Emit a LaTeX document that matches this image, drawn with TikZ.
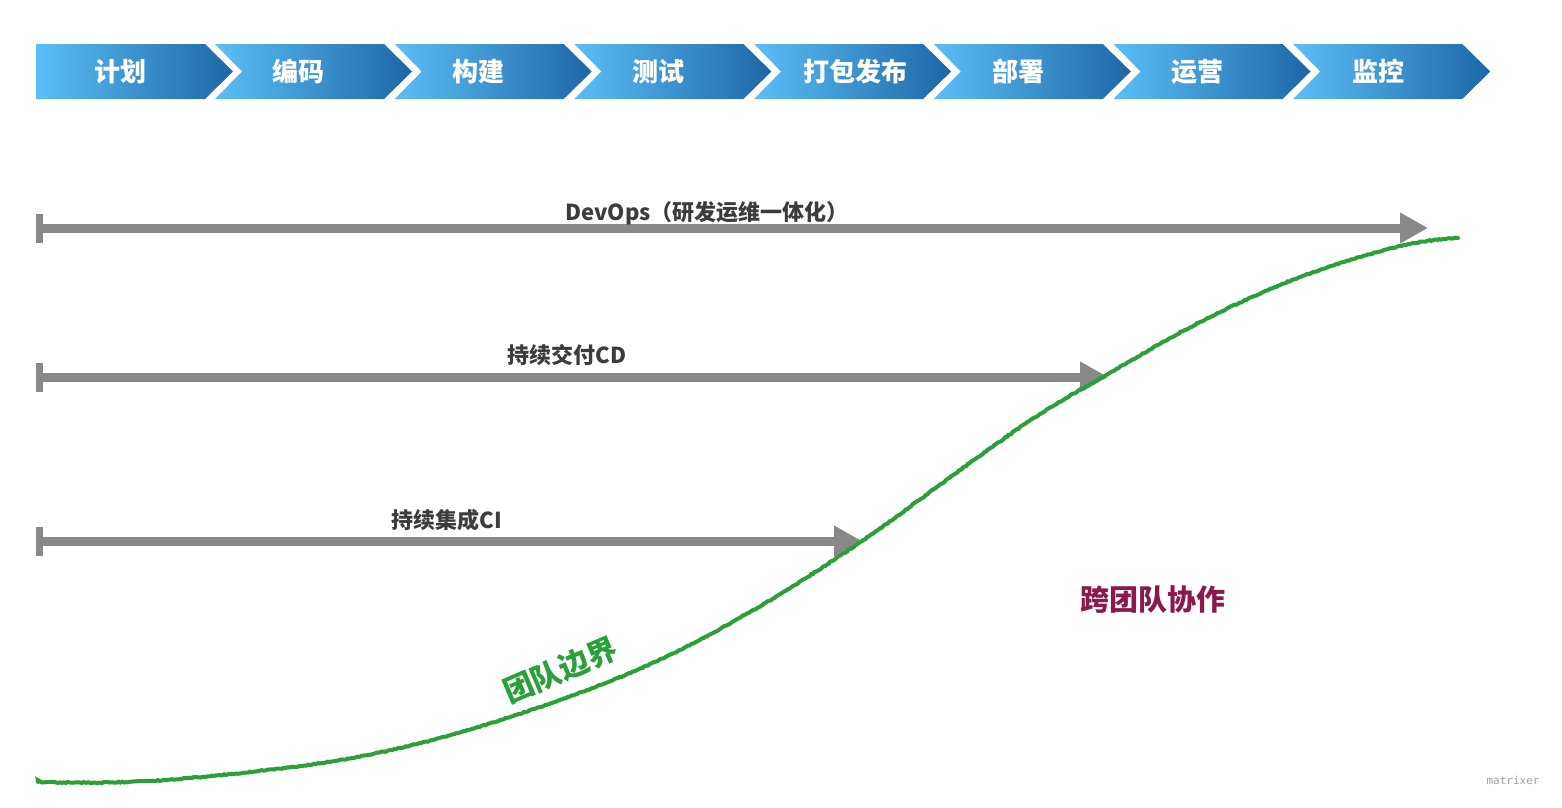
\documentclass[tikz,border=0pt]{standalone}
\usepackage{fontspec}
\setmainfont{Noto Sans CJK SC}
\newfontfamily\monof{DejaVu Sans Mono}
\usetikzlibrary{arrows.meta,decorations.pathmorphing}
\definecolor{chevlight}{RGB}{92,190,246}
\definecolor{chevdark}{RGB}{30,102,165}
\definecolor{arrowgray}{RGB}{136,136,136}
\definecolor{labelgray}{RGB}{60,60,60}
\definecolor{curvegreen}{RGB}{43,160,58}
\definecolor{teammagenta}{RGB}{139,24,78}
\begin{document}
\begin{tikzpicture}[x=1pt,y=-1pt,
  chevtext/.style={text=white,font=\bfseries\fontsize{26}{26}\selectfont,inner sep=0pt},
  spanline/.style={draw=arrowgray,line width=9pt,{Bar[width=29pt,line width=7pt]}-{Triangle[length=28pt,width=29pt]}},
  spanlabel/.style={text=labelgray,font=\bfseries\fontsize{22}{22}\selectfont,inner sep=0pt},
  chevshade/.style={left color=chevlight,right color=chevdark}]
\useasboundingbox[fill=white] (0,0) rectangle (1562,807);
% chevrons
\shade[chevshade] (36,44) -- (205,44) -- (233,71.5) -- (205,99) -- (36,99) -- cycle;
\foreach \i in {1,...,7}{
  \pgfmathsetmacro{\L}{215+179.7*(\i-1)}
  \shade[chevshade] (\L,44) -- (\L+169,44) -- (\L+197,71.5) -- (\L+169,99) -- (\L,99) -- (\L+27,71.5) -- cycle;
}
\node[chevtext] (c1) at (120,71.5) {计划};
\node[chevtext] (c2) at (298,71.5) {编码};
\node[chevtext] (c3) at (478,71.5) {构建};
\node[chevtext] (c4) at (658,71.5) {测试};
\node[chevtext] (c5) at (855,71.5) {打包发布};
\node[chevtext] (c6) at (1018,71.5) {部署};
\node[chevtext] (c7) at (1197,71.5) {运营};
\node[chevtext] (c8) at (1378,71.5) {监控};
% span arrows
\coordinate (devs) at (36,228);
\coordinate (deve) at (1428,228);
\coordinate (cds) at (36,377);
\coordinate (cde) at (1108,377);
\coordinate (cis) at (36,541);
\coordinate (cie) at (862,541);
\draw[spanline] (devs) -- (deve);
\draw[spanline] (cds) -- (cde);
\draw[spanline] (cis) -- (cie);
\node[spanlabel] (devl) at (707,213) {DevOps（研发运维一体化）};
\node[spanlabel] (cdl) at (567,355) {持续交付CD};
\node[spanlabel] (cil) at (447,520) {持续集成CI};
% green curve
\draw[curvegreen,line width=4pt,line cap=round,decorate,decoration={random steps,segment length=2pt,amplitude=0.5pt}]
  plot[smooth,tension=0.6] coordinates {(38,782) (150,781) (300,766) (400,748) (507,718) (637,670) (750,612) (862,541) (960,470) (1040,414) (1108,374) (1200,322) (1300,277) (1400,246) (1458,238)};
\node[text=curvegreen,font=\bfseries\fontsize{30}{30}\selectfont,rotate=23,inner sep=0pt] (tb) at (560,670) {团队边界};
\node[text=teammagenta,font=\bfseries\fontsize{29}{29}\selectfont,inner sep=0pt] (xt) at (1153,600) {跨团队协作};
\node[text=arrowgray!80,font=\monof\fontsize{11}{11}\selectfont,inner sep=0pt] (mx) at (1513,780) {matrixer};
\end{tikzpicture}
\end{document}
